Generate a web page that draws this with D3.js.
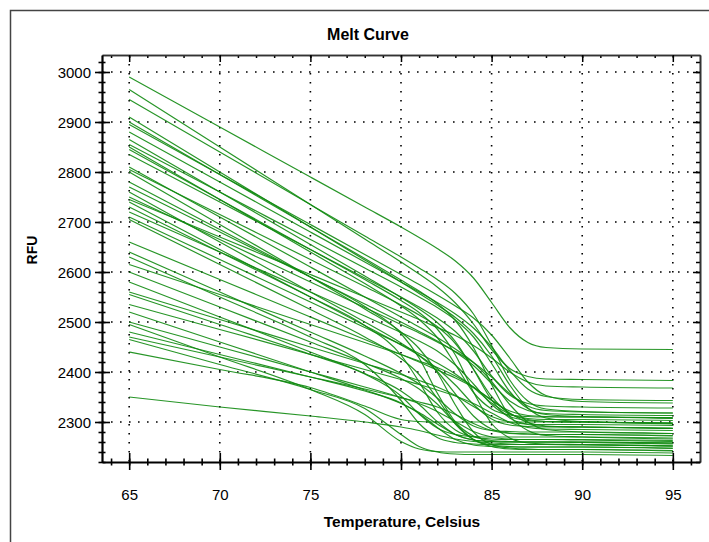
<!DOCTYPE html>
<html>
<head>
<meta charset="utf-8">
<script src="https://cdn.jsdelivr.net/npm/d3@7"></script>
<style>
  body { margin: 0; background: #fff; }
  text { font-family: "Liberation Sans", Arial, sans-serif; fill: #000; }
</style>
</head>
<body>
<div class="canvas"></div>
<script>
const temps = [65, 70, 75, 78, 80, 81, 82, 83, 84, 85, 86, 87, 88, 90, 95];

// RFU readings, one row per well
const wells = [
  [2990, 2890, 2790, 2730, 2690, 2669, 2647, 2622, 2588, 2539, 2489, 2459, 2449, 2446, 2445],
  [2965, 2850, 2735, 2666, 2620, 2596, 2570, 2538, 2496, 2445, 2407, 2391, 2386, 2385, 2383],
  [2945, 2840, 2735, 2672, 2630, 2608, 2585, 2557, 2516, 2453, 2384, 2342, 2326, 2321, 2318],
  [2910, 2800, 2690, 2624, 2580, 2557, 2534, 2509, 2477, 2432, 2374, 2328, 2308, 2301, 2298],
  [2900, 2795, 2690, 2627, 2584, 2562, 2537, 2503, 2449, 2375, 2312, 2283, 2273, 2270, 2266],
  [2895, 2795, 2695, 2635, 2595, 2575, 2554, 2532, 2508, 2474, 2428, 2380, 2353, 2341, 2338],
  [2880, 2780, 2680, 2620, 2580, 2560, 2539, 2516, 2488, 2450, 2403, 2366, 2351, 2345, 2343],
  [2865, 2760, 2655, 2592, 2549, 2526, 2499, 2461, 2405, 2344, 2308, 2295, 2291, 2290, 2287],
  [2855, 2760, 2665, 2608, 2570, 2550, 2529, 2504, 2470, 2417, 2361, 2327, 2315, 2311, 2309],
  [2850, 2745, 2640, 2577, 2532, 2505, 2469, 2415, 2359, 2326, 2314, 2311, 2310, 2310, 2307],
  [2845, 2745, 2645, 2585, 2543, 2519, 2486, 2434, 2360, 2297, 2268, 2258, 2256, 2255, 2252],
  [2835, 2740, 2645, 2588, 2550, 2530, 2508, 2481, 2442, 2392, 2354, 2337, 2332, 2330, 2328],
  [2810, 2710, 2610, 2550, 2510, 2490, 2469, 2446, 2419, 2381, 2335, 2300, 2285, 2280, 2277],
  [2805, 2715, 2625, 2571, 2534, 2514, 2491, 2457, 2406, 2351, 2317, 2305, 2301, 2300, 2297],
  [2800, 2695, 2590, 2526, 2480, 2447, 2399, 2334, 2280, 2255, 2248, 2246, 2245, 2245, 2242],
  [2780, 2685, 2590, 2531, 2477, 2428, 2358, 2300, 2272, 2263, 2261, 2260, 2260, 2259, 2256],
  [2770, 2680, 2590, 2536, 2500, 2481, 2462, 2440, 2413, 2377, 2342, 2323, 2317, 2315, 2313],
  [2760, 2660, 2560, 2500, 2458, 2433, 2401, 2356, 2312, 2286, 2278, 2276, 2275, 2275, 2272],
  [2750, 2665, 2580, 2529, 2495, 2478, 2460, 2441, 2419, 2390, 2357, 2332, 2323, 2320, 2318],
  [2745, 2670, 2595, 2550, 2520, 2505, 2489, 2473, 2453, 2428, 2400, 2380, 2372, 2370, 2368],
  [2740, 2645, 2550, 2493, 2454, 2433, 2407, 2374, 2335, 2306, 2294, 2291, 2290, 2290, 2287],
  [2730, 2640, 2550, 2493, 2434, 2380, 2320, 2284, 2270, 2266, 2265, 2265, 2265, 2264, 2261],
  [2720, 2640, 2560, 2512, 2479, 2462, 2442, 2414, 2376, 2335, 2311, 2303, 2301, 2300, 2296],
  [2710, 2625, 2540, 2489, 2455, 2437, 2418, 2396, 2369, 2338, 2316, 2307, 2305, 2305, 2303],
  [2705, 2615, 2525, 2470, 2427, 2395, 2347, 2296, 2265, 2254, 2251, 2250, 2250, 2250, 2247],
  [2660, 2585, 2510, 2465, 2435, 2420, 2404, 2388, 2369, 2344, 2318, 2299, 2292, 2290, 2288],
  [2640, 2560, 2480, 2432, 2397, 2376, 2348, 2316, 2292, 2283, 2281, 2280, 2280, 2280, 2277],
  [2630, 2550, 2470, 2415, 2343, 2297, 2269, 2259, 2256, 2255, 2255, 2255, 2255, 2255, 2252],
  [2615, 2555, 2495, 2459, 2435, 2422, 2409, 2392, 2370, 2343, 2322, 2313, 2311, 2310, 2308],
  [2600, 2530, 2460, 2418, 2387, 2366, 2336, 2297, 2265, 2251, 2246, 2245, 2245, 2245, 2243],
  [2580, 2510, 2440, 2397, 2362, 2335, 2301, 2275, 2264, 2261, 2260, 2260, 2260, 2260, 2258],
  [2560, 2505, 2450, 2417, 2395, 2383, 2370, 2353, 2331, 2311, 2300, 2296, 2295, 2295, 2293],
  [2555, 2495, 2435, 2396, 2352, 2316, 2288, 2275, 2271, 2270, 2270, 2270, 2270, 2270, 2268],
  [2535, 2485, 2435, 2405, 2385, 2375, 2364, 2352, 2337, 2318, 2299, 2289, 2286, 2285, 2283],
  [2520, 2460, 2400, 2364, 2337, 2319, 2296, 2275, 2264, 2261, 2260, 2260, 2260, 2260, 2258],
  [2500, 2450, 2400, 2370, 2349, 2337, 2321, 2301, 2281, 2270, 2266, 2265, 2265, 2265, 2263],
  [2495, 2430, 2365, 2315, 2261, 2246, 2241, 2240, 2240, 2240, 2240, 2240, 2240, 2240, 2238],
  [2480, 2435, 2390, 2362, 2338, 2317, 2289, 2265, 2254, 2251, 2250, 2250, 2250, 2250, 2248],
  [2470, 2430, 2390, 2366, 2349, 2340, 2330, 2315, 2297, 2283, 2277, 2276, 2275, 2275, 2273],
  [2465, 2415, 2365, 2327, 2275, 2251, 2240, 2236, 2235, 2235, 2235, 2235, 2235, 2235, 2233],
  [2440, 2405, 2369, 2332, 2305, 2301, 2300, 2300, 2300, 2300, 2300, 2300, 2300, 2300, 2298],
  [2350, 2330, 2312, 2300, 2290, 2283, 2274, 2266, 2261, 2258, 2256, 2255, 2255, 2254, 2252]
];

const xTicks = [65, 70, 75, 80, 85, 90, 95];
const xMinorTicks = d3.range(64, 97);
const yTicks = [2300, 2400, 2500, 2600, 2700, 2800, 2900, 3000];
const yMinorTicks = d3.range(2220, 3040, 20);

const width = 709, height = 542;
const plotLeft = 102, plotRight = 700, plotTop = 55, plotBottom = 462;

const svg = d3.select('.canvas')
  .append('svg')
    .attr('width', width)
    .attr('height', height);

// outer window frame
svg.append('path')
  .attr('d', 'M10.5,542V10.5H709')
  .attr('fill', 'none')
  .attr('stroke', '#444')
  .attr('stroke-width', 1.5);

const x = d3.scaleLinear().domain([63.5, 96.5]).range([plotLeft, plotRight]);
const y = d3.scaleLinear().domain([2220, 3034]).range([plotBottom, plotTop]);

// dotted grid
const grid = svg.append('g')
  .attr('stroke', '#000')
  .attr('stroke-width', 1.6)
  .attr('stroke-dasharray', '1.6,7.4');

grid.selectAll('.vgrid')
  .data(xTicks)
  .enter().append('line')
    .attr('x1', d => x(d)).attr('x2', d => x(d))
    .attr('y1', plotTop).attr('y2', plotBottom);

grid.selectAll('.hgrid')
  .data(yTicks)
  .enter().append('line')
    .attr('y1', d => y(d)).attr('y2', d => y(d))
    .attr('x1', plotLeft).attr('x2', plotRight);

// curves
const line = d3.line()
  .x((d, i) => x(temps[i]))
  .y(d => y(d))
  .curve(d3.curveMonotoneX);

svg.append('g')
  .selectAll('path')
  .data(wells)
  .enter().append('path')
    .attr('d', line)
    .attr('fill', 'none')
    .attr('stroke', '#0f8a0f')
    .attr('stroke-width', 1.2)
    .attr('stroke-opacity', 0.9);

// top and right frame with inward ticks
const topAxis = svg.append('g').attr('transform', `translate(0,${plotTop})`);
topAxis.call(d3.axisTop(x).tickValues(xMinorTicks).tickSizeInner(-3).tickSizeOuter(0).tickFormat(''));
topAxis.append('g').call(d3.axisTop(x).tickValues(xTicks).tickSizeInner(-7).tickSizeOuter(0).tickFormat(''));

const rightAxis = svg.append('g').attr('transform', `translate(${plotRight},0)`);
rightAxis.call(d3.axisRight(y).tickValues(yMinorTicks).tickSizeInner(-4).tickSizeOuter(0).tickFormat(''));
rightAxis.append('g').call(d3.axisRight(y).tickValues(yTicks).tickSizeInner(-7).tickSizeOuter(0).tickFormat(''));

[topAxis, rightAxis].forEach(g => {
  g.selectAll('path.domain').attr('stroke', '#333').attr('stroke-width', 1.6);
  g.selectAll('line').attr('stroke', '#000').attr('stroke-width', 1.5);
});

// bottom axis, ticks crossing the line
const xAxisGroup = svg.append('g').attr('transform', `translate(0,${plotBottom})`);
xAxisGroup.call(d3.axisBottom(x).tickValues(xMinorTicks).tickSizeOuter(0).tickFormat(''));
xAxisGroup.selectAll('.tick line').attr('y1', -3.5).attr('y2', 3.5);
const xMajor = xAxisGroup.append('g')
  .call(d3.axisBottom(x).tickValues(xTicks).tickSizeOuter(0).tickFormat(d3.format('d')));
xMajor.selectAll('.tick line').attr('y1', -9).attr('y2', 8);
xMajor.select('path.domain').remove();
xMajor.selectAll('.tick text')
  .attr('y', 38).attr('dy', 0)
  .style('font-size', '15px');

// left axis, ticks crossing the line
const yAxisGroup = svg.append('g').attr('transform', `translate(${plotLeft},0)`);
yAxisGroup.call(d3.axisLeft(y).tickValues(yMinorTicks).tickSizeOuter(0).tickFormat(''));
yAxisGroup.selectAll('.tick line').attr('x1', -3.5).attr('x2', 3.5);
const yMajor = yAxisGroup.append('g')
  .call(d3.axisLeft(y).tickValues(yTicks).tickSizeOuter(0).tickFormat(d3.format('d')));
yMajor.selectAll('.tick line').attr('x1', -7).attr('x2', 8);
yMajor.select('path.domain').remove();
yMajor.selectAll('.tick text')
  .attr('x', -11).attr('dy', '0.36em')
  .style('font-size', '15px');

[xAxisGroup, yAxisGroup].forEach(g => {
  g.selectAll('path.domain').attr('stroke', '#000').attr('stroke-width', 2.2);
  g.selectAll('line').attr('stroke', '#000').attr('stroke-width', 1.6);
});

// titles
svg.append('text')
  .attr('x', 368).attr('y', 40)
  .attr('text-anchor', 'middle')
  .style('font-size', '16px').style('font-weight', 'bold')
  .text('Melt Curve');

svg.append('text')
  .attr('x', 402).attr('y', 527)
  .attr('text-anchor', 'middle')
  .style('font-size', '15.5px').style('font-weight', 'bold')
  .text('Temperature, Celsius');

svg.append('text')
  .attr('transform', 'translate(37,250) rotate(-90)')
  .attr('text-anchor', 'middle')
  .style('font-size', '14px').style('font-weight', 'bold')
  .text('RFU');
</script>
</body>
</html>
